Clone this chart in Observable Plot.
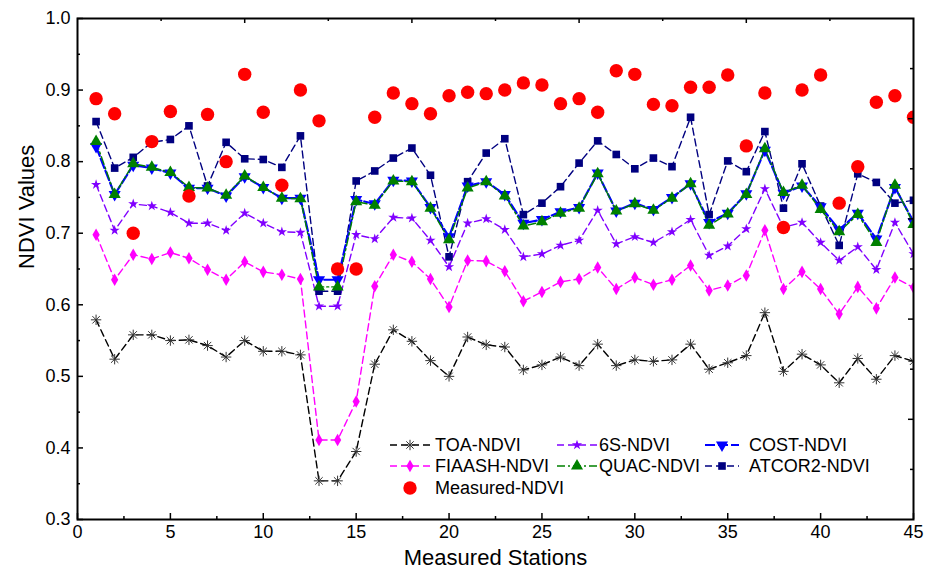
<!DOCTYPE html>
<html><head><meta charset="utf-8">
<script src="https://cdn.jsdelivr.net/npm/d3@7"></script>
<script src="https://cdn.jsdelivr.net/npm/@observablehq/plot@0.6"></script>
<style>body{margin:0;background:#fff;} #chart{width:936px;height:571px;}</style>
</head><body><div id="chart"></div>
<script>
const stations = [1,2,3,4,5,6,7,8,9,10,11,12,13,14,15,16,17,18,19,20,21,22,23,24,25,26,27,28,29,30,31,32,33,34,35,36,37,38,39,40,41,42,43,44,45];

const toaNDVI = [0.579,0.524,0.558,0.558,0.550,0.551,0.543,0.527,0.550,0.535,0.535,0.530,0.354,0.354,0.395,0.517,0.565,0.549,0.522,0.500,0.555,0.544,0.541,0.509,0.516,0.527,0.515,0.545,0.515,0.523,0.521,0.523,0.545,0.510,0.519,0.529,0.589,0.507,0.531,0.516,0.491,0.525,0.496,0.529,0.521];
const fiaashNDVI = [0.698,0.635,0.670,0.664,0.673,0.665,0.649,0.635,0.660,0.646,0.642,0.636,0.411,0.411,0.465,0.626,0.670,0.660,0.636,0.597,0.662,0.661,0.647,0.605,0.618,0.632,0.636,0.652,0.622,0.638,0.628,0.635,0.655,0.620,0.627,0.641,0.704,0.622,0.646,0.622,0.587,0.625,0.595,0.638,0.624];
const s6NDVI = [0.768,0.704,0.741,0.738,0.729,0.714,0.714,0.704,0.728,0.714,0.702,0.701,0.598,0.598,0.698,0.692,0.722,0.721,0.690,0.653,0.714,0.720,0.705,0.667,0.671,0.683,0.690,0.732,0.685,0.695,0.687,0.702,0.719,0.669,0.682,0.706,0.762,0.708,0.715,0.687,0.662,0.681,0.649,0.715,0.671];
const costNDVI = [0.821,0.754,0.795,0.791,0.784,0.763,0.763,0.752,0.779,0.764,0.749,0.749,0.635,0.635,0.747,0.741,0.774,0.773,0.736,0.695,0.766,0.772,0.754,0.714,0.719,0.730,0.736,0.784,0.731,0.742,0.733,0.750,0.769,0.715,0.728,0.755,0.816,0.756,0.766,0.737,0.705,0.728,0.692,0.764,0.716];
const quacNDVI = [0.828,0.754,0.797,0.792,0.785,0.764,0.763,0.753,0.780,0.764,0.749,0.748,0.625,0.625,0.744,0.739,0.773,0.772,0.735,0.691,0.763,0.772,0.752,0.710,0.716,0.728,0.735,0.783,0.731,0.741,0.732,0.749,0.769,0.711,0.727,0.754,0.818,0.757,0.767,0.733,0.702,0.726,0.687,0.767,0.712];
const atcor2NDVI = [0.856,0.791,0.806,0.827,0.831,0.850,0.766,0.827,0.804,0.803,0.792,0.836,0.619,0.619,0.773,0.787,0.805,0.819,0.781,0.667,0.772,0.812,0.832,0.726,0.742,0.765,0.798,0.829,0.810,0.790,0.805,0.793,0.862,0.726,0.801,0.786,0.842,0.735,0.797,0.738,0.683,0.783,0.771,0.742,0.746];
const measuredNDVI = [0.888,0.867,0.700,0.828,0.870,0.752,0.866,0.800,0.922,0.869,0.767,0.900,0.857,0.650,0.650,0.862,0.896,0.881,0.867,0.892,0.897,0.895,0.900,0.910,0.907,0.881,0.888,0.869,0.927,0.922,0.880,0.878,0.904,0.904,0.921,0.822,0.896,0.708,0.900,0.921,0.742,0.793,0.883,0.892,0.862];

const xTickLabels = [0,5,10,15,20,25,30,35,40,45];
const xMinorTicks = [2.5,7.5,12.5,17.5,22.5,27.5,32.5,37.5,42.5];
const yTickLabels = [0.3,0.4,0.5,0.6,0.7,0.8,0.9,1.0];
const yMinorTicks = [0.35,0.45,0.55,0.65,0.75,0.85,0.95];
const topMajorTicks = [9,18,27,36];
const topMinorTicks = [4.5,13.5,22.5,31.5,40.5];
const rightMajorTicks = [0.44,0.58,0.72,0.86];
const rightMinorTicks = [0.37,0.51,0.65,0.79,0.93];

// custom symbols
const asterisk8 = {draw(ctx, size){ const r = Math.sqrt(size/Math.PI); const d = r*0.7071;
  ctx.moveTo(-r,0); ctx.lineTo(r,0); ctx.moveTo(0,-r); ctx.lineTo(0,r);
  ctx.moveTo(-d,-d); ctx.lineTo(d,d); ctx.moveTo(-d,d); ctx.lineTo(d,-d);}};
const triangleDown = {draw(ctx, size){ const y = Math.sqrt(size/(Math.sqrt(3)*3)); const s3 = Math.sqrt(3);
  ctx.moveTo(0, 2*y); ctx.lineTo(-s3*y, -y); ctx.lineTo(s3*y, -y); ctx.closePath();}};

const series = [
  {name:"TOA-NDVI", values:toaNDVI, color:"#000000", mark:"#333333", dash:"7,4", width:1.4, symbol:asterisk8, r:5.2, strokeSym:true},
  {name:"FIAASH-NDVI", values:fiaashNDVI, color:"#FF00FF", mark:"#FF00FF", dash:"7,4", width:1.4, symbol:"diamond", r:3.8},
  {name:"6S-NDVI", values:s6NDVI, color:"#8000FF", mark:"#8000FF", dash:"7,4", width:1.4, symbol:"star", r:3.2},
  {name:"ATCOR2-NDVI", values:atcor2NDVI, color:"#000080", mark:"#000080", dash:"7,4", width:1.4, symbol:"square", r:4.3},
  {name:"COST-NDVI", values:costNDVI, color:"#0000FF", mark:"#0000FF", dash:"10,3", width:2.2, symbol:triangleDown, r:4.5},
  {name:"QUAC-NDVI", values:quacNDVI, color:"#008000", mark:"#008000", dash:"8,3,2,3", width:1.4, symbol:"triangle", r:4.5},
];
const rows = s => stations.map((st,i)=>({station:st, value:s.values[i]}));
const measuredRows = stations.map((st,i)=>({station:st, value:measuredNDVI[i]}));

const W = 936, H = 571, mL = 77, mR = 23, mT = 18, mB = 52;
const pw = W - mL - mR, ph = H - mT - mB;

const marks = [];
for (const s of series) {
  const d = rows(s);
  marks.push(Plot.line(d, {x:"station", y:"value", stroke:s.color, strokeWidth:s.width, strokeDasharray:s.dash, clip:true}));
}
for (const s of series) {
  const d = rows(s);
  if (s.strokeSym) marks.push(Plot.dot(d, {x:"station", y:"value", symbol:s.symbol, r:s.r, fill:"none", stroke:s.mark, strokeWidth:1, clip:true}));
  else marks.push(Plot.dot(d, {x:"station", y:"value", symbol:s.symbol, r:s.r, fill:s.mark, stroke:"none", clip:true}));
}
marks.push(Plot.dot(measuredRows, {x:"station", y:"value", r:6.7, fill:"#FF0000", stroke:"none", clip:true}));

// inward ticks
marks.push(Plot.tickX(xTickLabels, {x:d=>d, insetTop:ph-6, stroke:"black", strokeWidth:1.5}));
marks.push(Plot.tickX(xMinorTicks, {x:d=>d, insetTop:ph-3, stroke:"black", strokeWidth:1.5}));
marks.push(Plot.tickY(yTickLabels, {y:d=>d, insetRight:pw-6, stroke:"black", strokeWidth:1.5}));
marks.push(Plot.tickY(yMinorTicks, {y:d=>d, insetRight:pw-3, stroke:"black", strokeWidth:1.5}));
marks.push(Plot.tickX(topMajorTicks, {x:d=>d, insetBottom:ph-5, stroke:"black", strokeWidth:1.5}));
marks.push(Plot.tickX(topMinorTicks, {x:d=>d, insetBottom:ph-3, stroke:"black", strokeWidth:1.5}));
marks.push(Plot.tickY(rightMajorTicks, {y:d=>d, insetLeft:pw-5, stroke:"black", strokeWidth:1.5}));
marks.push(Plot.tickY(rightMinorTicks, {y:d=>d, insetLeft:pw-3, stroke:"black", strokeWidth:1.5}));

marks.push(Plot.frame({stroke:"black", strokeWidth:2}));
marks.push(Plot.axisX({ticks:xTickLabels, tickSize:0, tickPadding:6, fontSize:18, label:null}));
marks.push(Plot.axisY({ticks:yTickLabels, tickSize:0, tickPadding:7, fontSize:18, tickFormat:".1f", label:null}));
marks.push(Plot.text(["Measured Stations"], {frameAnchor:"bottom", dy:38, fontSize:22, lineAnchor:"middle"}));
marks.push(Plot.text(["NDVI Values"], {frameAnchor:"left", dx:-51, rotate:-90, fontSize:22, lineAnchor:"middle"}));

const chart = Plot.plot({
  width:W, height:H, marginLeft:mL, marginRight:mR, marginTop:mT, marginBottom:mB,
  style:{fontFamily:"'Liberation Sans', Arial, sans-serif", fontSize:"18px", background:"white", color:"black"},
  x:{domain:[0,45]},
  y:{domain:[0.3,1.0]},
  marks
});
document.getElementById("chart").appendChild(chart);

// Legend
const byName = Object.fromEntries(series.map(s=>[s.name,s]));
const legendItems = [
  {name:"TOA-NDVI", col:0, row:0},
  {name:"6S-NDVI", col:1, row:0},
  {name:"COST-NDVI", col:2, row:0},
  {name:"FIAASH-NDVI", col:0, row:1},
  {name:"QUAC-NDVI", col:1, row:1},
  {name:"ATCOR2-NDVI", col:2, row:1},
  {name:"Measured-NDVI", col:0, row:2},
];
const colX = [390, 557, 705], colLen = [40, 40, 34], textX = [435, 599, 749], rowY = [445, 466, 488];
const svg = d3.select(chart);
const g = svg.append("g").attr("font-family","'Liberation Sans', Arial, sans-serif").attr("font-size",18).attr("text-anchor","start");
for (const it of legendItems) {
  const x0 = colX[it.col], len = colLen[it.col], y = rowY[it.row];
  if (it.name === "Measured-NDVI") {
    g.append("circle").attr("cx", x0 + 20).attr("cy", y).attr("r", 6.7).attr("fill", "#FF0000");
  } else {
    const s = byName[it.name];
    g.append("line").attr("x1", x0).attr("x2", x0+len).attr("y1", y).attr("y2", y)
      .attr("stroke", s.color).attr("stroke-width", s.width).attr("stroke-dasharray", s.dash);
    const sym = typeof s.symbol === "string" ? {diamond:d3.symbolDiamond, star:d3.symbolStar, square:d3.symbolSquare, triangle:d3.symbolTriangle}[s.symbol] : s.symbol;
    const p = g.append("path").attr("transform", `translate(${x0+len/2},${y})`)
      .attr("d", d3.symbol(sym, s.r*s.r*Math.PI)());
    if (s.strokeSym) p.attr("fill","none").attr("stroke", s.mark);
    else p.attr("fill", s.mark);
  }
  g.append("text").attr("x", textX[it.col]).attr("y", y).attr("dy","0.35em").attr("text-anchor","start").attr("fill","black").text(it.name);
}
</script></body></html>
